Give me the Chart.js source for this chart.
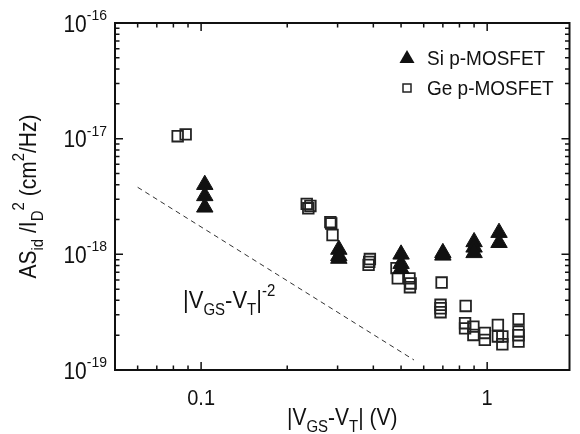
<!DOCTYPE html>
<html>
<head>
<meta charset="utf-8">
<script src="https://cdn.jsdelivr.net/npm/chart.js@4.4.1/dist/chart.umd.min.js"></script>
<style>
  html, body { margin: 0; padding: 0; background: #fff; }
  #wrap { width: 580px; height: 434px; position: relative; }
</style>
</head>
<body>
<div id="wrap"><canvas id="noiseChart"></canvas></div>
<script>
// |VGS-VT| (V) against normalized drain noise AS_id/I_D^2 (cm^2/Hz)
const siVgs = [0.103, 0.103, 0.103, 0.303, 0.303, 0.303, 0.5, 0.5, 0.5, 0.7, 0.7, 0.9, 0.9, 0.9, 1.1, 1.1];
const siNoise = [4.0e-18, 3.2e-18, 2.55e-18, 1.1e-18, 0.97e-18, 0.92e-18, 1.0e-18, 8.3e-19, 7.5e-19,
                 1.03e-18, 0.98e-18, 1.28e-18, 1.15e-18, 1.03e-18, 1.54e-18, 1.26e-18];

const geVgs = [0.0828, 0.0883, 0.234, 0.237, 0.241, 0.283, 0.285, 0.288, 0.389, 0.385, 0.387,
               0.482, 0.487, 0.535, 0.54, 0.537, 0.693, 0.687, 0.687, 0.687, 0.841, 0.837, 0.837,
               0.895, 0.895, 0.981, 0.981, 1.09, 1.09, 1.13, 1.13, 1.287, 1.287, 1.287, 1.287];
const geNoise = [1.05e-17, 1.09e-17, 2.73e-18, 2.5e-18, 2.62e-18, 1.9e-18, 1.85e-18, 1.47e-18, 9.1e-19, 8.1e-19, 8.6e-19,
                 7.6e-19, 6.2e-19, 6.2e-19, 5.6e-19, 5.2e-19, 5.7e-19, 3.66e-19, 3.42e-19, 3.16e-19, 3.58e-19, 2.54e-19, 2.29e-19,
                 2.37e-19, 2.01e-19, 2.09e-19, 1.82e-19, 2.45e-19, 1.95e-19, 1.95e-19, 1.67e-19, 2.75e-19, 2.15e-19, 2.0e-19, 1.76e-19];

// dashed |VGS-VT|^-2 guide
const guideVgs = [0.06, 0.555];
const guideNoise = [3.8e-18, 1.22e-19];

const xTicks = [0.1, 1];
const xTickLabels = ['0.1', '1'];
const yTicks = [1e-16, 1e-17, 1e-18, 1e-19];
const yTickExps = ['-16', '-17', '-18', '-19'];

const FONT = '"Liberation Sans", Arial, Helvetica, sans-serif';
const STRETCH = 1.1; // the figure's lettering is a little taller than it is wide

function pairs(xs, ys) { return xs.map((x, i) => ({ x: x, y: ys[i] })); }

function minorTicks(lo, hi) {
    const out = [];
    for (let d = -20; d <= 1; d++) {
        for (let m = 2; m <= 9; m++) {
            const v = m * Math.pow(10, d);
            if (v > lo && v < hi) out.push(v);
        }
    }
    return out;
}

function stretchedText(ctx, s, x, y) {
    ctx.save();
    ctx.translate(x, y);
    ctx.scale(1, STRETCH);
    ctx.fillText(s, 0, 0);
    ctx.restore();
}

// text with sub/superscript parts: [text, 'n' | 'sub' | 'sup']
function richWidth(ctx, parts, size, small) {
    let w = 0;
    parts.forEach(p => { ctx.font = (p[1] === 'n' ? size : small) + 'px ' + FONT; w += ctx.measureText(p[0]).width; });
    return w;
}
function drawRich(ctx, parts, x, y, align, size, small) {
    const w = richWidth(ctx, parts, size, small);
    let cx = align === 'center' ? x - w / 2 : (align === 'right' ? x - w : x);
    ctx.textAlign = 'left';
    ctx.textBaseline = 'alphabetic';
    parts.forEach(p => {
        ctx.font = (p[1] === 'n' ? size : small) + 'px ' + FONT;
        const dy = p[1] === 'sup' ? -size * 0.55 : (p[1] === 'sub' ? size * 0.34 : 0);
        stretchedText(ctx, p[0], cx, y + dy);
        cx += ctx.measureText(p[0]).width;
    });
}

const decorPlugin = {
    id: 'decor',
    afterDraw(chart) {
        const ctx = chart.ctx;
        const a = chart.chartArea;
        const xs = chart.scales.x, ys = chart.scales.y;
        ctx.save();
        ctx.fillStyle = '#111';
        ctx.strokeStyle = '#111';

        // frame
        ctx.lineWidth = 2;
        ctx.strokeRect(a.left, a.top, a.right - a.left, a.bottom - a.top);

        // inward ticks on all four sides
        ctx.lineWidth = 1.5;
        ctx.beginPath();
        const xTick = (v, len) => {
            const px = xs.getPixelForValue(v);
            ctx.moveTo(px, a.bottom); ctx.lineTo(px, a.bottom - len);
            ctx.moveTo(px, a.top); ctx.lineTo(px, a.top + len);
        };
        const yTick = (v, len) => {
            const py = ys.getPixelForValue(v);
            ctx.moveTo(a.left, py); ctx.lineTo(a.left + len, py);
            ctx.moveTo(a.right, py); ctx.lineTo(a.right - len, py);
        };
        xTicks.forEach(v => xTick(v, 8));
        minorTicks(xs.min, xs.max).forEach(v => xTick(v, 4.5));
        yTicks.forEach(v => yTick(v, 8));
        minorTicks(ys.min, ys.max).forEach(v => yTick(v, 4.5));
        ctx.stroke();

        // tick labels
        xTicks.forEach((v, i) => {
            ctx.font = '20px ' + FONT;
            ctx.textAlign = 'center';
            ctx.textBaseline = 'alphabetic';
            stretchedText(ctx, xTickLabels[i], xs.getPixelForValue(v), a.bottom + 35);
        });
        yTicks.forEach((v, i) => {
            const py = ys.getPixelForValue(v);
            drawRich(ctx, [['10', 'n'], [yTickExps[i], 'sup']], a.left - 8, py + 8.5, 'right', 21, 14);
        });

        // axis titles
        drawRich(ctx, [['|V', 'n'], ['GS', 'sub'], ['-V', 'n'], ['T', 'sub'], ['| (V)', 'n']],
                 (a.left + a.right) / 2, 425, 'center', 21, 15);
        ctx.save();
        ctx.translate(36, (a.top + a.bottom) / 2);
        ctx.rotate(-Math.PI / 2);
        drawRich(ctx, [['AS', 'n'], ['id', 'sub'], [' /I', 'n'], ['D', 'sub'], ['2', 'sup'], [' (cm', 'n'], ['2', 'sup'], ['/Hz)', 'n']],
                 0, 0, 'center', 21, 15);
        ctx.restore();

        // slope annotation
        drawRich(ctx, [['|V', 'n'], ['GS', 'sub'], ['-V', 'n'], ['T', 'sub'], ['|', 'n'], ['-2', 'sup']],
                 183, 308, 'left', 22, 15);

        // legend
        ctx.beginPath();
        ctx.moveTo(407, 50); ctx.lineTo(414.5, 63); ctx.lineTo(399.5, 63); ctx.closePath();
        ctx.fill();
        ctx.lineWidth = 1.5;
        ctx.strokeStyle = '#222';
        ctx.strokeRect(403, 84, 8, 8);
        ctx.font = '19px ' + FONT;
        ctx.textAlign = 'left';
        stretchedText(ctx, 'Si p-MOSFET', 427, 65);
        stretchedText(ctx, 'Ge p-MOSFET', 427, 95);
        ctx.restore();
    }
};

new Chart(document.getElementById('noiseChart'), {
    type: 'scatter',
    data: {
        datasets: [
            { label: 'Si p-MOSFET', data: pairs(siVgs, siNoise), pointStyle: 'triangle', pointRadius: 9.5,
              backgroundColor: '#111', borderColor: '#111', borderWidth: 1 },
            { label: 'Ge p-MOSFET', data: pairs(geVgs, geNoise), pointStyle: 'rect', pointRadius: 7.5,
              backgroundColor: 'rgba(255,255,255,0)', borderColor: '#222', borderWidth: 1.8 },
            { type: 'line', label: 'guide', data: pairs(guideVgs, guideNoise), borderColor: '#333',
              borderWidth: 1, borderDash: [5, 4], pointRadius: 0, fill: false }
        ]
    },
    options: {
        responsive: true,
        maintainAspectRatio: false,
        animation: false,
        layout: { padding: { left: 115, right: 5, top: 23, bottom: 64 } },
        plugins: { legend: { display: false }, tooltip: { enabled: false } },
        scales: {
            x: { type: 'logarithmic', min: 0.05, max: 1.94, display: false },
            y: { type: 'logarithmic', min: 1e-19, max: 1e-16, display: false }
        }
    },
    plugins: [decorPlugin]
});
</script>
</body>
</html>
